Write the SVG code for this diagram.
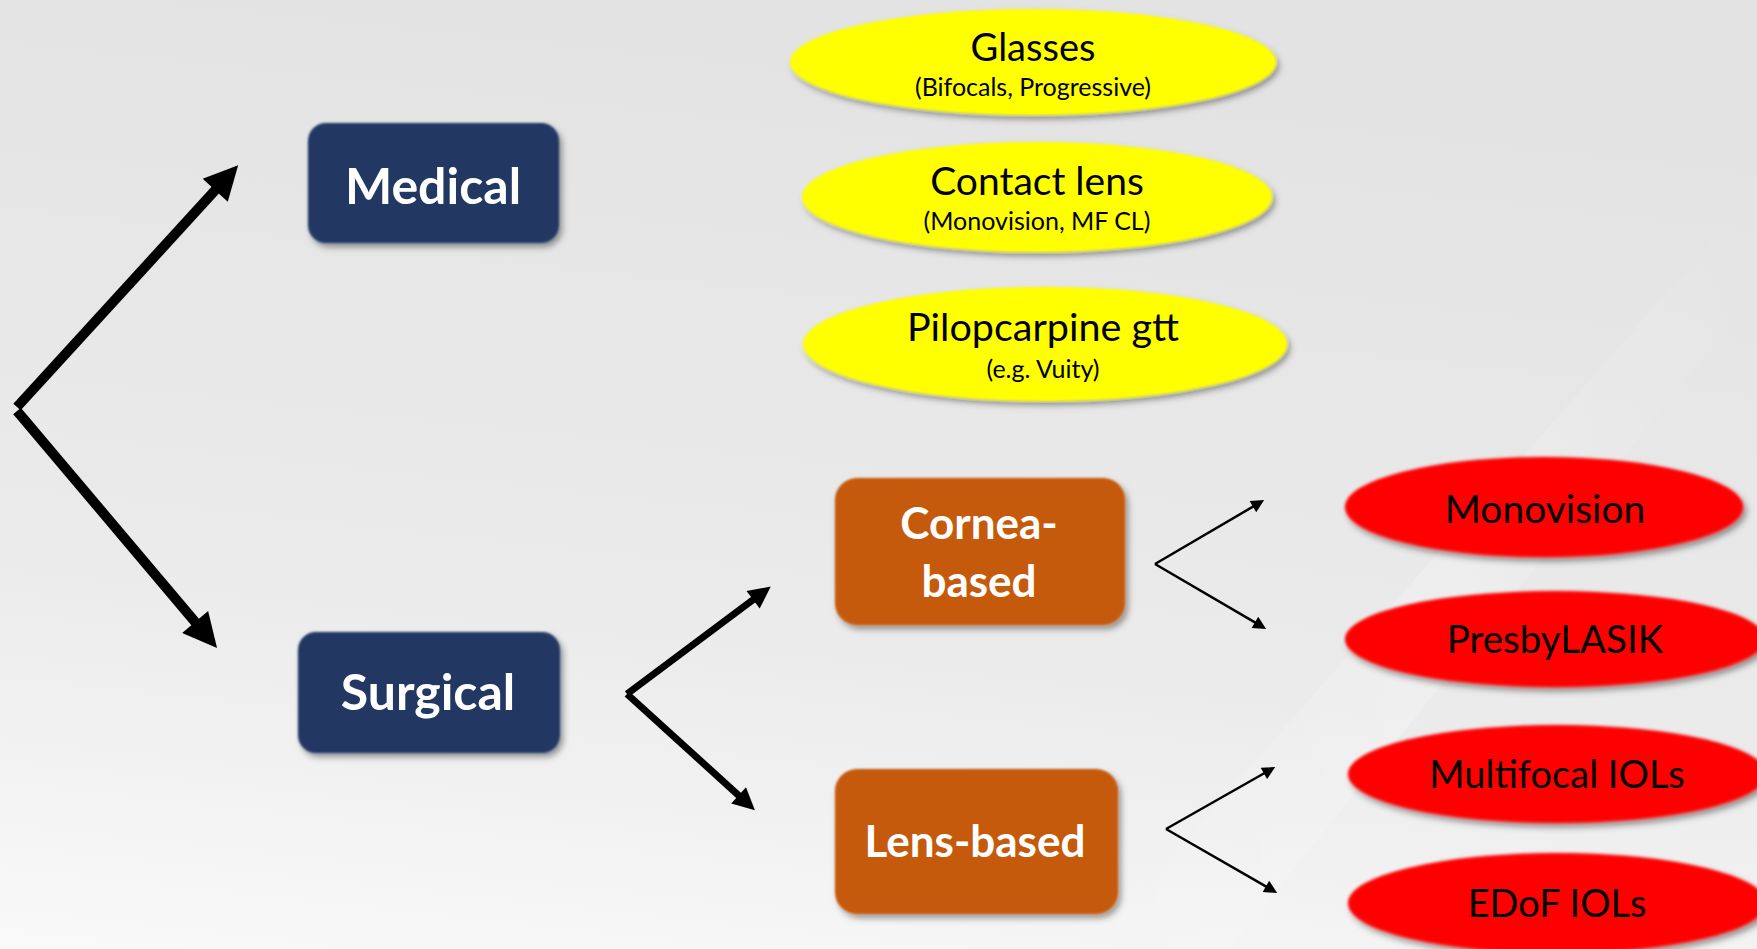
<svg xmlns="http://www.w3.org/2000/svg" width="1757" height="949" viewBox="0 0 1757 949">
  <defs>
    <linearGradient id="bg" x1="0.2" y1="0" x2="0" y2="1">
      <stop offset="0" stop-color="#e3e3e3"/>
      <stop offset="0.6" stop-color="#ebebeb"/>
      <stop offset="1" stop-color="#f9f9f9"/>
    </linearGradient>
    <linearGradient id="streak" x1="0" y1="0" x2="1" y2="0">
      <stop offset="0" stop-color="#ffffff" stop-opacity="0"/>
      <stop offset="0.5" stop-color="#ffffff" stop-opacity="0.35"/>
      <stop offset="1" stop-color="#ffffff" stop-opacity="0"/>
    </linearGradient>
    <filter id="sh" x="-10%" y="-15%" width="125%" height="140%">
      <feGaussianBlur in="SourceGraphic" stdDeviation="0.8" result="s"/>
      <feDropShadow in="s" dx="3" dy="4" stdDeviation="3" flood-color="#000" flood-opacity="0.4"/>
    </filter>
    <filter id="shr" x="-10%" y="-15%" width="125%" height="140%">
      <feGaussianBlur in="SourceGraphic" stdDeviation="1.5" result="s"/>
      <feDropShadow in="s" dx="3" dy="4" stdDeviation="3" flood-color="#000" flood-opacity="0.45"/>
    </filter>
    <marker id="ah-big" markerUnits="userSpaceOnUse" markerWidth="36" markerHeight="34" viewBox="0 0 10 10" refX="3" refY="5" orient="auto">
      <path d="M0,0 L10,5 L0,10 z" fill="#000"/>
    </marker>
    <marker id="ah-mid" markerUnits="userSpaceOnUse" markerWidth="26" markerHeight="22" viewBox="0 0 10 10" refX="3" refY="5" orient="auto">
      <path d="M0,0 L10,5 L0,10 z" fill="#000"/>
    </marker>
    <marker id="ah-sm" markerUnits="userSpaceOnUse" markerWidth="16" markerHeight="13" viewBox="0 0 10 10" refX="3" refY="5" orient="auto">
      <path d="M0,0 L10,5 L0,10 z" fill="#000"/>
    </marker>
  </defs>
  <style>
    .box-blue { fill: #203864; }
    .box-orange { fill: #C55A11; }
    .ell-yellow { fill: #FFFF00; }
    .ell-red { fill: #FF0000; }
    .t-box { font-family: Lato, "Liberation Sans", sans-serif; font-weight: bold; fill: #fff; text-anchor: middle; }
    .t-ell { font-family: Lato, "Liberation Sans", sans-serif; fill: #000; text-anchor: middle; }
    .c-big { stroke: #000; stroke-width: 10; fill: none; marker-end: url(#ah-big); }
    .c-mid { stroke: #000; stroke-width: 7; fill: none; marker-end: url(#ah-mid); }
    .c-sm { stroke: #000; stroke-width: 2.5; fill: none; marker-end: url(#ah-sm); }
  </style>

  <rect width="1757" height="949" fill="url(#bg)"/>
  <polygon points="1757,190 1757,290 1230,949 1090,949" fill="url(#streak)" opacity="0.6"/>

  <g id="connectors">
    <path class="c-big" d="M17,407 L222.1,182.7"/>
    <path class="c-big" d="M17,411 L201.7,629.7"/>
    <path class="c-mid" d="M627,694 L758.4,595.8"/>
    <path class="c-mid" d="M627,694 L743.5,799.8"/>
    <path class="c-sm" d="M1155,564 L1256.3,504.7"/>
    <path class="c-sm" d="M1155,564 L1258.3,624.4"/>
    <path class="c-sm" d="M1166,829 L1267.3,771.5"/>
    <path class="c-sm" d="M1166,829 L1269.3,888.4"/>
  </g>

  <g id="medical">
    <rect class="box-blue" x="308" y="123" width="251" height="120" rx="18" filter="url(#sh)"/>
    <text class="t-box" x="433" y="204" font-size="50">Medical</text>
  </g>
  <g id="surgical">
    <rect class="box-blue" x="298" y="632" width="262" height="121" rx="18" filter="url(#sh)"/>
    <text class="t-box" x="428" y="710" font-size="50">Surgical</text>
  </g>

  <g id="glasses">
    <ellipse class="ell-yellow" cx="1033" cy="62" rx="243" ry="53" filter="url(#sh)"/>
    <text class="t-ell" x="1033" y="61" font-size="38">Glasses</text>
    <text class="t-ell" x="1033" y="96" font-size="25">(Bifocals, Progressive)</text>
  </g>
  <g id="contact-lens">
    <ellipse class="ell-yellow" cx="1037" cy="197" rx="235" ry="55" filter="url(#sh)"/>
    <text class="t-ell" x="1037" y="195" font-size="39">Contact lens</text>
    <text class="t-ell" x="1037" y="230" font-size="25">(Monovision, MF CL)</text>
  </g>
  <g id="pilocarpine">
    <ellipse class="ell-yellow" cx="1045" cy="344" rx="242" ry="57" filter="url(#sh)"/>
    <text class="t-ell" x="1043" y="341" font-size="39.5">Pilopcarpine gtt</text>
    <text class="t-ell" x="1043" y="378" font-size="25">(e.g. Vuity)</text>
  </g>

  <g id="cornea-based">
    <rect class="box-orange" x="835" y="478" width="290" height="147" rx="22" filter="url(#sh)"/>
    <text class="t-box" x="979" y="539" font-size="44">Cornea-</text>
    <text class="t-box" x="979" y="597" font-size="44">based</text>
  </g>
  <g id="lens-based">
    <rect class="box-orange" x="835" y="769" width="283" height="145" rx="22" filter="url(#sh)"/>
    <text class="t-box" x="975" y="857" font-size="44">Lens-based</text>
  </g>

  <g id="monovision">
    <ellipse class="ell-red" cx="1544" cy="507" rx="199" ry="50" filter="url(#shr)"/>
    <text class="t-ell" x="1545" y="523" font-size="39">Monovision</text>
  </g>
  <g id="presbylasik">
    <ellipse class="ell-red" cx="1555" cy="639" rx="210" ry="48" filter="url(#shr)"/>
    <text class="t-ell" x="1555" y="653" font-size="38.5">PresbyLASIK</text>
  </g>
  <g id="multifocal-iols">
    <ellipse class="ell-red" cx="1557" cy="774" rx="209" ry="49" filter="url(#shr)"/>
    <text class="t-ell" x="1557" y="788" font-size="38">Multifocal IOLs</text>
  </g>
  <g id="edof-iols">
    <ellipse class="ell-red" cx="1557" cy="903" rx="209" ry="50" filter="url(#shr)"/>
    <text class="t-ell" x="1557" y="917" font-size="38">EDoF IOLs</text>
  </g>
</svg>
